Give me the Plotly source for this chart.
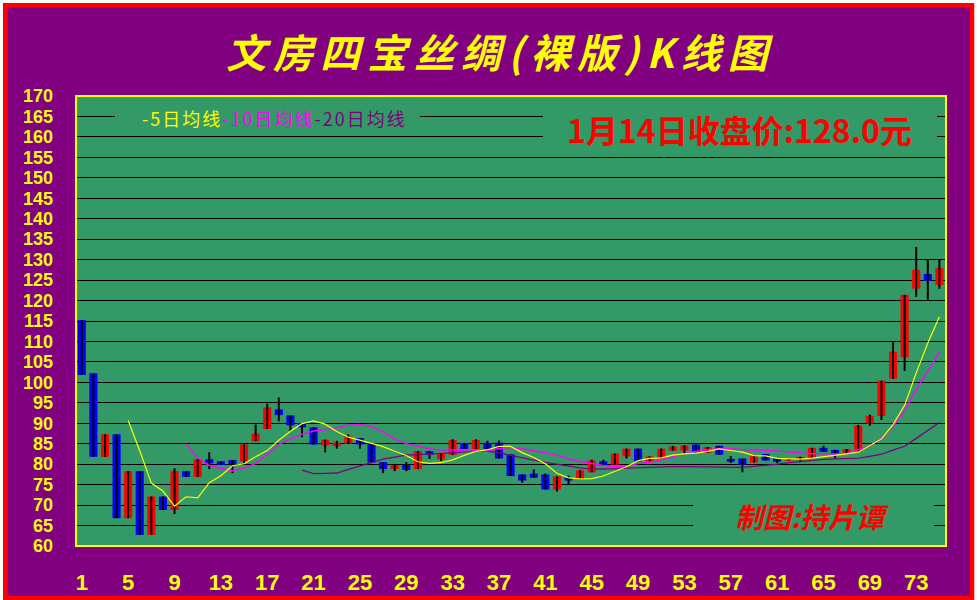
import plotly.graph_objects as go

# ---------------- data ----------------
days = list(range(1, 76))

open_ = [115.2, 102.2, 81.8, 87.3, 66.8, 78.3, 62.7, 72.1, 68.8, 78.3,
         76.9, 81.2, 80.7, 81.0, 80.7, 85.6, 88.6, 93.4, 91.9, 90.0,
         89.0, 84.6, 84.4, 85.0, 86.4, 85.1, 80.5, 78.8, 79.8, 78.8,
         83.2, 81.2, 82.3, 85.2, 83.7, 85.2, 85.3, 82.4, 77.5, 77.7,
         77.5, 73.8, 76.7, 76.3, 78.0, 80.7, 79.9, 81.9, 83.8, 80.7,
         81.4, 83.3, 83.3, 84.8, 82.8, 84.5, 81.3, 81.4, 80.4, 82.5,
         81.5, 80.9, 81.0, 81.5, 84.0, 83.5, 82.5, 83.2, 89.9, 91.8,
         100.9, 106.1, 122.9, 126.5, 123.8]

high = [115.2, 102.2, 87.3, 87.3, 78.3, 78.3, 72.1, 72.1, 79.0, 78.3,
        81.2, 82.9, 80.7, 81.0, 84.8, 89.7, 94.8, 96.3, 91.9, 90.0,
        89.0, 86.0, 85.7, 87.3, 86.4, 85.1, 80.5, 79.8, 80.5, 83.2,
        83.2, 82.6, 86.1, 85.2, 86.1, 85.7, 85.8, 82.4, 77.5, 78.7,
        77.7, 77.0, 77.2, 78.5, 81.1, 81.1, 82.6, 83.8, 83.8, 81.9,
        83.8, 84.5, 84.6, 84.8, 84.2, 84.5, 82.0, 81.4, 82.1, 82.5,
        81.5, 81.5, 81.8, 84.0, 84.5, 83.5, 83.7, 89.6, 92.1, 100.4,
        110.0, 121.4, 133.1, 130.0, 130.0]

low = [101.8, 81.8, 81.8, 66.8, 66.8, 62.7, 62.7, 68.8, 67.8, 76.9,
       76.9, 78.8, 79.8, 77.8, 80.1, 85.6, 88.6, 90.5, 88.1, 86.6,
       84.8, 82.9, 83.8, 85.0, 83.8, 80.4, 77.8, 78.3, 78.3, 78.8,
       81.3, 80.8, 82.3, 83.7, 83.7, 83.7, 81.4, 77.1, 75.5, 76.7,
       73.8, 73.3, 75.0, 76.3, 78.0, 79.7, 79.9, 81.4, 80.7, 80.7,
       81.4, 83.3, 82.6, 82.9, 82.8, 82.3, 80.3, 78.0, 80.4, 80.9,
       80.3, 80.9, 80.8, 81.5, 83.0, 81.5, 82.5, 83.0, 89.4, 90.8,
       100.9, 102.8, 120.9, 120.2, 122.9]

close = [101.8, 81.8, 87.3, 66.8, 78.3, 62.7, 72.1, 68.8, 78.3, 76.9,
         81.2, 80.2, 79.8, 80.0, 84.8, 87.5, 93.9, 92.0, 89.5, 89.0,
         84.8, 86.0, 85.3, 86.8, 84.8, 80.4, 78.8, 79.8, 78.6, 83.2,
         82.3, 82.6, 85.9, 83.7, 85.9, 83.7, 81.4, 77.1, 76.0, 76.7,
         73.8, 77.0, 76.0, 78.5, 80.9, 79.7, 82.6, 83.8, 80.7, 81.9,
         83.8, 84.3, 84.6, 82.9, 84.2, 82.3, 80.6, 79.9, 82.1, 80.9,
         80.6, 81.5, 81.8, 84.0, 83.0, 82.5, 83.7, 89.4, 91.8, 100.4,
         107.5, 121.4, 127.5, 124.8, 128.0]

# moving-average lines (start at day 5 / 10 / 20)
ma5_days = days[4:]
ma5 = [90.66, 83.28, 75.38, 73.44, 69.74, 72.04, 71.76, 75.46, 77.18, 79.62,
       80.10, 81.84, 83.32, 85.86, 88.04, 89.90, 90.58, 89.78, 87.98, 86.60,
       85.88, 85.10, 84.28, 83.16, 82.12, 80.60, 80.22, 80.36, 81.06, 82.14,
       83.12, 83.52, 84.34, 84.36, 82.82, 81.62, 80.08, 77.78, 76.64, 76.40,
       76.46, 77.10, 78.32, 79.36, 80.86, 81.40, 81.54, 82.22, 82.50, 82.70,
       83.12, 83.74, 83.34, 82.96, 82.08, 82.02, 81.42, 81.34, 81.26, 81.48,
       81.78, 82.18, 82.50, 82.94, 84.62, 86.18, 89.66, 94.38, 102.32, 109.64,
       116.04]

ma10_days = days[9:]
ma10 = [85.01, 81.61, 79.68, 79.02, 78.39, 79.04, 80.18, 82.45, 84.87, 86.16,
        87.33, 88.11, 88.42, 88.92, 89.55, 89.71, 89.25, 87.82, 86.17, 85.03,
        84.35, 83.77, 83.43, 83.47, 83.26, 83.23, 83.29, 83.82, 84.08, 83.78,
        83.33, 82.78, 82.22, 81.33, 80.66, 80.16, 79.70, 79.38, 79.52, 80.15,
        80.47, 81.08, 81.83, 82.57, 83.20, 83.51, 83.85, 83.79, 83.55, 83.38,
        83.44, 83.21, 82.91, 82.63, 82.55, 82.58, 82.48, 82.65, 83.47, 84.47,
        86.26, 89.11, 93.10, 98.23, 102.83, 107.38]

ma20_days = days[19:]
ma20 = [78.54, 77.69, 77.74, 77.84, 78.75, 79.60, 80.49, 81.24, 81.72, 82.24,
        82.34, 82.56, 82.66, 82.78, 83.08, 83.26, 83.16, 82.80, 82.13, 81.50,
        81.01, 80.46, 79.98, 79.54, 79.10, 78.81, 78.78, 78.88, 79.04, 79.16,
        79.25, 79.26, 79.38, 79.40, 79.36, 79.31, 79.24, 79.19, 79.23, 79.48,
        79.69, 80.01, 80.39, 80.68, 80.94, 81.19, 81.28, 81.41, 81.49, 81.93,
        82.43, 83.41, 84.38, 86.30, 88.16, 90.17]

x_ticks = [1, 5, 9, 13, 17, 21, 25, 29, 33, 37, 41, 45, 49, 53, 57, 61, 65, 69, 73]
y_ticks = [60, 65, 70, 75, 80, 85, 90, 95, 100, 105, 110, 115, 120, 125, 130,
           135, 140, 145, 150, 155, 160, 165, 170]

title_text = "文房四宝丝绸(裸版)K线图"
legend_parts = ["-5日均线", "-10日均线", "-20日均线"]
price_note = "1月14日收盘价:128.0元"
author_note = "制图:持片谭"

# ---------------- style / layout constants ----------------
W, H = 977, 600
L, R, T, B = 76, 31, 96, 54
PW, PH = W - L - R, H - T - B

PURPLE = "#800080"
GREEN = "#339966"
YELLOW = "#FFFF00"
RED = "#FF0000"
BLUE = "#0000FF"
MAGENTA = "#FF00FF"


def fx(px):
    return (px - L) / PW


def fy(py):
    return (H - B - py) / PH


# ---------------- traces ----------------
wick_x, wick_y = [], []
for d, h, l in zip(days, high, low):
    wick_x += [d, d, None]
    wick_y += [l, h, None]

body_base = [min(o, c) for o, c in zip(open_, close)]
body_h = [max(abs(c - o), 0.35) for o, c in zip(open_, close)]
body_col = [RED if c >= o else BLUE for o, c in zip(open_, close)]

fig = go.Figure()
fig.add_trace(go.Scatter(x=wick_x, y=wick_y, mode="lines",
                         line=dict(color="black", width=2),
                         hoverinfo="skip", showlegend=False))
fig.add_trace(go.Bar(x=days, y=body_h, base=body_base, width=0.7,
                     marker=dict(color=body_col, line=dict(width=0)),
                     hoverinfo="skip", showlegend=False))
fig.add_trace(go.Scatter(x=ma20_days, y=ma20, mode="lines",
                         line=dict(color=PURPLE, width=1.3),
                         hoverinfo="skip", showlegend=False))
fig.add_trace(go.Scatter(x=ma10_days, y=ma10, mode="lines",
                         line=dict(color=MAGENTA, width=1.4),
                         hoverinfo="skip", showlegend=False))
fig.add_trace(go.Scatter(x=ma5_days, y=ma5, mode="lines",
                         line=dict(color=YELLOW, width=1.2),
                         hoverinfo="skip", showlegend=False))

# ---------------- shapes ----------------
shapes = [
    # white outer margin + red frame
    dict(type="rect", xref="paper", yref="paper", x0=fx(1.5), x1=fx(975.5),
         y0=fy(602), y1=fy(1.5), line=dict(color="white", width=3),
         fillcolor="rgba(0,0,0,0)", layer="above"),
    dict(type="rect", xref="paper", yref="paper", x0=fx(5.5), x1=fx(972),
         y0=fy(598), y1=fy(5.3), line=dict(color=RED, width=4.5),
         fillcolor="rgba(0,0,0,0)", layer="above"),
    # plot border
    dict(type="rect", xref="paper", yref="paper", x0=0, x1=1, y0=0, y1=1,
         line=dict(color=YELLOW, width=2), fillcolor="rgba(0,0,0,0)", layer="above"),
    # text backgrounds hiding gridlines
    dict(type="rect", xref="paper", yref="paper", x0=fx(115), x1=fx(420),
         y0=fy(130), y1=fy(104), line=dict(width=0), fillcolor=GREEN, layer="above"),
    dict(type="rect", xref="paper", yref="paper", x0=fx(543), x1=fx(937),
         y0=fy(148), y1=fy(106), line=dict(width=0), fillcolor=GREEN, layer="above"),
    dict(type="rect", xref="paper", yref="paper", x0=fx(693), x1=fx(934),
         y0=fy(538), y1=fy(496), line=dict(width=0), fillcolor=GREEN, layer="above"),
]

legend_html = ("<span style='letter-spacing:2px'>"
               f"<span style='color:{YELLOW}'>{legend_parts[0]}</span>"
               f"<span style='color:{MAGENTA}'>{legend_parts[1]}</span>"
               f"<span style='color:{PURPLE}'>{legend_parts[2]}</span></span>")

CJK = "Noto Sans CJK SC"
annotations = [
    dict(text=f"<span style='letter-spacing:7px'>{title_text}</span>",
         xref="paper", yref="paper", x=fx(500), y=fy(51),
         xanchor="center", yanchor="middle", showarrow=False,
         font=dict(family=CJK, size=40, color=YELLOW, weight="bold", style="italic")),
    dict(text=legend_html, xref="paper", yref="paper", x=fx(140), y=fy(117.5),
         xanchor="left", yanchor="middle", showarrow=False,
         font=dict(family=CJK, size=18, color=YELLOW)),
    dict(text=price_note, xref="paper", yref="paper", x=fx(739.5), y=fy(129),
         xanchor="center", yanchor="middle", showarrow=False,
         font=dict(family=CJK, size=32, color=RED, weight="bold")),
    dict(text=author_note, xref="paper", yref="paper", x=fx(812), y=fy(516),
         xanchor="center", yanchor="middle", showarrow=False,
         font=dict(family=CJK, size=28, color=RED, weight="bold", style="italic")),
]

fig.update_layout(
    width=W, height=H,
    margin=dict(l=L, r=R, t=T, b=B, pad=0, autoexpand=False),
    paper_bgcolor=PURPLE, plot_bgcolor=GREEN,
    showlegend=False, hovermode=False,
    shapes=shapes, annotations=annotations,
    xaxis=dict(range=[0.5, 75.57], tickvals=x_ticks, ticktext=[str(v) for v in x_ticks],
               showgrid=False, zeroline=False, showline=False, ticks="",
               ticklabelstandoff=21, fixedrange=True, automargin=False,
               tickfont=dict(family="Liberation Sans Narrow, Liberation Sans",
                             size=22, color=YELLOW, weight="bold")),
    yaxis=dict(range=[60, 170], tickvals=y_ticks, ticktext=[str(v) for v in y_ticks],
               showgrid=True, gridcolor="black", gridwidth=1,
               zeroline=False, showline=False, ticks="",
               ticklabelstandoff=22, fixedrange=True, automargin=False,
               tickfont=dict(family="Liberation Sans", size=18, color=YELLOW,
                             weight="bold")),
)

fig.write_html("out.html", config={"displayModeBar": False},
               post_script="document.body.style.margin='0px';"
                           "document.body.style.overflow='hidden';")
